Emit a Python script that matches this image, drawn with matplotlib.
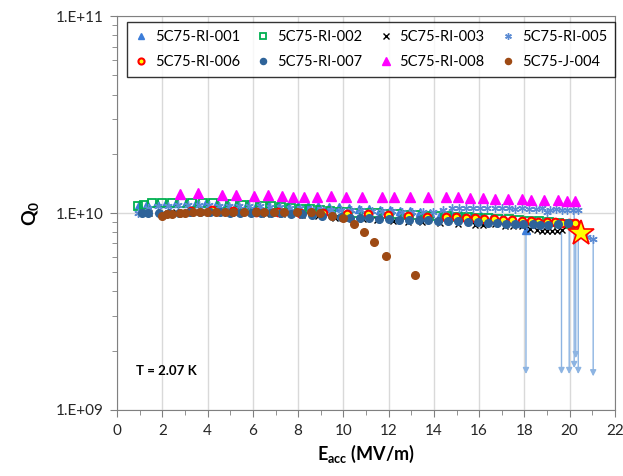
import matplotlib
matplotlib.use("Agg")
import matplotlib.pyplot as plt
from matplotlib.ticker import LogLocator, FixedLocator, MultipleLocator, NullFormatter

plt.rcParams['font.family'] = ['Lato', 'DejaVu Sans']
plt.rcParams['mathtext.fontset'] = 'custom'
plt.rcParams['mathtext.rm'] = 'Lato:bold'
plt.rcParams['mathtext.bf'] = 'Lato:bold'
plt.rcParams['mathtext.it'] = 'Lato:bold'

# ---- data (Eacc in MV/m, Q0 in units of 1e9) ----
x_001 = [0.95, 1.3, 1.75, 2.15, 2.6, 3.05, 3.5, 3.95, 4.4, 4.85, 5.3, 5.75, 6.2, 6.65, 7.1, 7.55,
         8.0, 8.45, 8.9, 9.35, 9.8, 10.25, 10.7, 11.15, 11.6, 12.05, 12.5, 12.95, 13.4, 13.85,
         14.3, 14.75, 15.2, 15.65, 16.1, 16.55, 17.0, 17.45, 17.85, 18.07]
q_001 = [11.0, 11.1, 11.2, 11.2, 11.3, 11.3, 11.3, 11.3, 11.2, 11.2, 11.2, 11.1, 11.1, 11.0, 11.0, 10.9,
         10.9, 10.8, 10.8, 10.7, 10.7, 10.6, 10.5, 10.5, 10.4, 10.3, 10.2, 10.2, 10.1, 10.0,
         10.0, 9.9, 9.8, 9.7, 9.6, 9.5, 9.4, 9.2, 8.9, 8.2]

x_002 = [0.91, 1.19, 1.54, 1.97, 2.44, 2.87, 3.32, 3.78, 4.23, 4.64, 5.07, 5.51, 5.95, 6.39, 6.79,
         7.24, 7.69, 8.12, 8.53, 8.97, 9.41, 9.81, 10.15, 10.56, 11.0, 11.45, 11.9, 12.35, 12.8,
         13.25, 13.7, 14.15, 14.6, 15.05, 15.5, 15.95, 16.4, 16.85, 17.3, 17.75, 18.2, 18.65,
         19.1, 19.55, 20.0, 20.3]
q_002 = [10.85, 11.0, 11.2, 11.3, 11.3, 11.3, 11.3, 11.25, 11.2, 11.15, 11.15, 11.0, 10.98, 10.85, 10.85,
         10.7, 10.57, 10.5, 10.45, 10.35, 10.25, 10.13, 10.13, 10.0, 10.0, 9.95, 9.9, 9.85, 9.8,
         9.75, 9.7, 9.65, 9.6, 9.55, 9.5, 9.45, 9.4, 9.35, 9.3, 9.2, 9.15, 9.1,
         9.0, 8.9, 8.8, 8.6]

x_003 = [1.4, 2.02, 2.6, 3.26, 3.9, 4.58, 5.25, 5.95, 6.6, 7.3, 8.16, 8.9, 9.63, 10.25, 10.88, 11.5,
         12.2, 12.87, 13.46, 14.27, 15.08, 15.81, 16.18, 16.7, 17.14, 17.5, 17.88, 18.24, 18.54,
         18.76, 18.98, 19.2, 19.42, 19.64]
q_003 = [10.0, 10.0, 10.06, 10.12, 10.12, 10.06, 10.0, 10.0, 9.94, 9.88, 9.77, 9.66, 9.47, 9.39, 9.30, 9.21,
         9.16, 9.04, 8.97, 8.87, 8.77, 8.69, 8.69, 8.77, 8.62, 8.62, 8.59, 8.27, 8.20,
         8.14, 8.14, 8.14, 8.14, 8.20]

x_005 = [0.93, 1.35, 1.8, 2.25, 2.7, 3.15, 3.6, 4.05, 4.5, 4.95, 5.4, 5.85, 6.3, 6.75, 7.2, 7.65,
         8.1, 8.55, 9.0, 9.45, 9.9, 10.35, 10.8, 11.25, 11.7, 12.15, 12.6, 13.05, 13.5, 13.95,
         14.4, 14.8, 15.1, 15.4, 15.75, 16.05, 16.35, 16.7, 17.0, 17.3, 17.6, 17.9, 18.2, 18.5,
         18.8, 19.0, 19.15, 19.4, 19.65, 19.9, 20.15, 20.35, 20.75, 21.04]
q_005 = [10.0, 10.6, 10.8, 10.9, 11.0, 11.0, 11.0, 11.0, 10.9, 10.9, 10.9, 10.8, 10.8, 10.7, 10.7, 10.6,
         10.6, 10.5, 10.5, 10.4, 10.4, 10.3, 10.3, 10.2, 10.2, 10.2, 10.1, 10.1, 10.1, 10.1,
         10.3, 10.55, 10.55, 10.6, 10.6, 10.55, 10.55, 10.6, 10.55, 10.55, 10.5, 10.55, 10.5, 10.5,
         10.55, 10.1, 10.3, 10.5, 10.4, 10.3, 10.3, 10.3, 7.55, 7.37]

x_006 = [3.26, 4.18, 5.11, 6.14, 7.12, 8.08, 9.09, 10.15, 11.1, 11.98, 12.84, 13.71, 14.53, 14.98,
         15.42, 15.83, 16.23, 16.65, 17.07, 17.46, 17.88, 18.27, 18.61, 18.98, 19.35, 19.64,
         19.98, 20.23]
q_006 = [10.27, 10.35, 10.27, 10.15, 10.08, 10.03, 9.96, 9.88, 9.85, 9.77, 9.66, 9.58, 9.58, 9.51,
         9.47, 9.40, 9.36, 9.32, 9.21, 9.18, 9.14, 9.11, 9.04, 9.04, 9.01, 8.93, 8.87, 8.87]

x_007 = [1.09, 1.38, 1.83, 2.3, 2.75, 3.2, 3.65, 4.1, 4.55, 5.0, 5.45, 5.9, 6.35, 6.8, 7.25, 7.7,
         8.15, 8.6, 9.05, 9.5, 9.9, 10.29, 10.73, 11.14, 11.57, 12.03, 12.47, 12.91, 13.34, 13.75,
         14.19, 14.63, 15.07, 15.52, 15.96, 16.4, 16.77, 17.17, 17.58, 17.95, 18.36, 18.68,
         19.05, 19.49, 19.91]
q_007 = [10.0, 10.0, 10.0, 10.05, 10.05, 10.1, 10.1, 10.1, 10.1, 10.05, 10.05, 10.0, 10.0, 10.0, 9.95, 9.9,
         9.85, 9.8, 9.7, 9.6, 9.55, 9.47, 9.47, 9.43, 9.36, 9.32, 9.25, 9.25, 9.18, 9.18,
         9.15, 9.15, 9.1, 8.97, 8.95, 8.87, 8.85, 8.8, 8.8, 8.77, 8.75, 8.69,
         8.69, 8.77, 8.87]

x_008 = [2.78, 3.58, 4.64, 5.26, 6.06, 6.67, 7.29, 7.77, 8.26, 8.83, 9.45, 10.12, 10.82, 11.71,
         12.23, 12.94, 13.74, 14.53, 15.06, 15.59, 16.17, 16.70, 17.27, 17.89, 18.29, 18.86,
         19.48, 19.88, 20.23]
q_008 = [12.5, 12.6, 12.4, 12.3, 12.2, 12.3, 12.2, 12.1, 12.1, 12.1, 12.2, 12.1, 12.1, 12.0,
         12.0, 12.0, 12.0, 12.0, 12.0, 11.9, 11.9, 11.8, 11.8, 11.8, 11.7, 11.6,
         11.6, 11.5, 11.5]

x_j004 = [1.97, 2.19, 2.42, 2.78, 3.0, 3.34, 3.67, 3.96, 4.37, 4.77, 5.14, 5.61, 6.13, 6.49, 6.93,
          7.39, 7.94, 8.56, 8.97, 9.48, 9.97, 10.48, 10.9, 11.37, 11.87, 13.16]
q_j004 = [9.68, 9.88, 9.88, 9.97, 9.97, 10.08, 10.08, 10.08, 10.15, 10.08, 10.15, 10.15, 10.15, 10.08,
          10.08, 10.15, 10.08, 10.08, 9.97, 9.68, 9.40, 8.80, 7.98, 7.10, 6.02, 4.82]

# quench point (star) and field-emission limit arrows
star_x = [20.5]
star_q = [7.9]
arrow_x = [18.07, 19.64, 19.98, 20.2, 20.27, 20.38, 21.04]
arrow_top = [8.2, 8.2, 8.87, 11.5, 8.87, 8.6, 7.37]
arrow_bot = [1.52, 1.52, 1.52, 1.63, 1.83, 1.52, 1.48]

labels = ['5C75-RI-001', '5C75-RI-002', '5C75-RI-003', '5C75-RI-005',
          '5C75-RI-006', '5C75-RI-007', '5C75-RI-008', '5C75-J-004']

fig = plt.figure(figsize=(6.23, 4.76), dpi=100)
ax = fig.add_axes([0.188, 0.139, 0.799, 0.827])

def e9(v):
    return [q * 1e9 for q in v]

# arrows first so markers sit on top
for xa, qt, qb in zip(arrow_x, arrow_top, arrow_bot):
    ax.annotate('', xy=(xa, qb * 1e9), xytext=(xa, qt * 1e9),
                arrowprops=dict(arrowstyle='-|>', color='#8DB4E2', lw=1.0,
                                mutation_scale=9, shrinkA=0, shrinkB=0), zorder=1)

h = {}
h['001'], = ax.plot(x_001, e9(q_001), ls='none', marker='^', ms=6, color='#3C7DD9', mec='#3C7DD9')
h['002'], = ax.plot(x_002, e9(q_002), ls='none', marker='s', ms=5.5, mfc='none', mec='#00B050', mew=1.3)
h['003'], = ax.plot(x_003, e9(q_003), ls='none', marker='x', ms=5, color='black', mew=1.0)
h['005'], = ax.plot(x_005, e9(q_005), ls='none', marker=(6, 2, 0), ms=6, color='#5B8BD3', mec='#5B8BD3', mew=1.0)
h['006'], = ax.plot(x_006, e9(q_006), ls='none', marker='o', ms=5.5, mfc='#FFFF00', mec='#FF0000', mew=1.5)
h['007'], = ax.plot(x_007, e9(q_007), ls='none', marker='o', ms=5.5, color='#2E6399')
h['008'], = ax.plot(x_008, e9(q_008), ls='none', marker='^', ms=6.5, color='#FF00FF')
h['j004'], = ax.plot(x_j004, e9(q_j004), ls='none', marker='o', ms=5.5, color='#9E4A14')
ax.plot(star_x, e9(star_q), ls='none', marker='*', ms=19, mfc='#FFFF00', mec='#FF0000', mew=1.2, zorder=5)

ax.set_yscale('log')
ax.set_xlim(0, 22)
ax.set_ylim(1e9, 1e11)

ax.xaxis.set_major_locator(MultipleLocator(2))
ax.xaxis.set_minor_locator(MultipleLocator(1))
ax.yaxis.set_major_locator(FixedLocator([1e9, 1e10, 1e11]))
ax.yaxis.set_minor_locator(LogLocator(base=10, subs=range(2, 10)))
ax.yaxis.set_minor_formatter(NullFormatter())
ax.set_yticklabels(['1.E+09', '1.E+10', '1.E+11'])

ax.grid(True, which='major', color='#D9D9D9', lw=1.0)
ax.set_axisbelow(True)
for s in ax.spines.values():
    s.set_color('#808080')
ax.tick_params(which='both', direction='out', color='#808080', labelsize=11, labelcolor='#262626')
ax.tick_params(which='major', length=5)
ax.tick_params(which='minor', length=3.5)
ax.tick_params(axis='both', pad=5)

ax.set_xlabel(r'E$_{\mathrm{acc}}$ (MV/m)', fontsize=13, fontweight='bold', labelpad=4)
ax.set_ylabel(r'Q$_{\mathrm{0}}$', fontsize=14, fontweight='bold', labelpad=10)

ax.text(0.85, 1.58e9, 'T = 2.07 K', fontsize=9.5, fontweight='bold', va='center')

order = ['001', '006', '002', '007', '003', '008', '005', 'j004']
names = {'001': labels[0], '002': labels[1], '003': labels[2], '005': labels[3],
         '006': labels[4], '007': labels[5], '008': labels[6], 'j004': labels[7]}
leg = ax.legend([h[k] for k in order], [names[k] for k in order], ncol=4,
                loc='upper left', bbox_to_anchor=(0.02, 0.985), borderaxespad=0,
                fontsize=10.5, frameon=True, fancybox=False, edgecolor='black',
                borderpad=0.55, handlelength=0.8, handletextpad=0.55,
                columnspacing=1.2, labelspacing=0.75, markerscale=0.8)
leg.get_frame().set_linewidth(1.0)

fig.savefig('out.png', dpi=100)
